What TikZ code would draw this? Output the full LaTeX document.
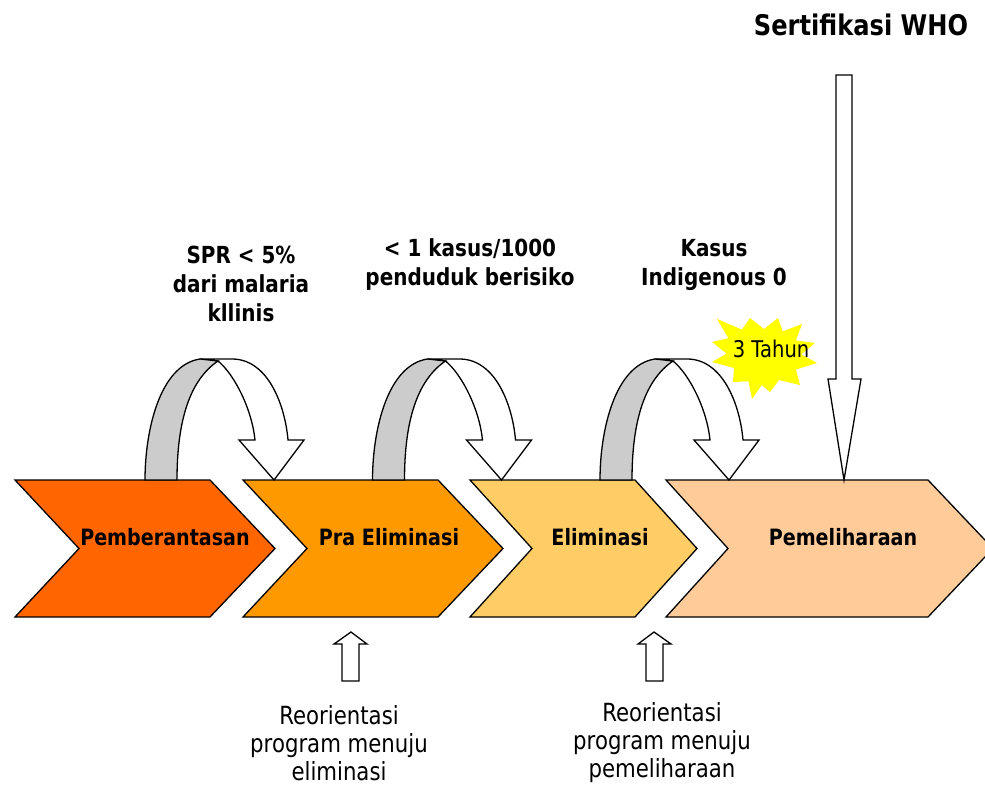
\documentclass[tikz,border=0pt]{standalone}
\usepackage{fontspec}
\setmainfont{DejaVu Sans}[FakeStretch=0.85]
\definecolor{cOne}{HTML}{FF6600}
\definecolor{cTwo}{HTML}{FF9900}
\definecolor{cThree}{HTML}{FFCC66}
\definecolor{cFour}{HTML}{FFCC99}
\definecolor{bandgray}{HTML}{CCCCCC}
\definecolor{burst}{HTML}{FFFF00}
\tikzset{
  outline/.style={draw=black, line width=1.3pt, line join=miter},
  chevlabel/.style={font=\bfseries\fontsize{22.5}{28}\selectfont, inner sep=0pt},
  toplabel/.style={font=\bfseries\fontsize{23.5}{29}\selectfont, align=center, inner sep=0pt},
  botlabel/.style={font=\fontsize{25}{28}\selectfont, align=center, inner sep=0pt},
  uarrow/.pic={
    \draw[outline, fill=white] (200,359) -- (232,359) .. controls (268,359) and (285,405) .. (288,440)
      -- (304,440) -- (274,480) -- (239,440) -- (255,440) .. controls (252,410) and (235,375) .. (218,361) -- cycle;
    \draw[outline, fill=bandgray] (145,480) .. controls (145,430) and (160,365) .. (200,359)
      -- (218,361) .. controls (190,380) and (177,420) .. (177,480) -- cycle;
  }
}
\begin{document}
\begin{tikzpicture}[x=1pt,y=-1pt]
\useasboundingbox (0,0) rectangle (985,786);
\clip (0,0) rectangle (985,786);

% chevrons
\draw[outline, fill=cOne]   (15,480) -- (210,480) -- (275,548.5) -- (210,617) -- (15,617) -- (79,548.5) -- cycle;
\draw[outline, fill=cTwo]   (243,480) -- (438,480) -- (503,548.5) -- (438,617) -- (243,617) -- (307,548.5) -- cycle;
\draw[outline, fill=cThree] (470,480) -- (635,480) -- (697,548.5) -- (635,617) -- (470,617) -- (532,548.5) -- cycle;
\draw[outline, fill=cFour]  (666,480) -- (928,480) -- (993,548.5) -- (928,617) -- (666,617) -- (728,548.5) -- cycle;

\node[chevlabel] (pemb) at (165,537) {Pemberantasan};
\node[chevlabel] (pra)  at (389,537) {Pra Eliminasi};
\node[chevlabel] (elim) at (600,537) {Eliminasi};
\node[chevlabel] (peme) at (843,537) {Pemeliharaan};

% curved arrows
\pic at (0,0) {uarrow};
\pic at (227.5,0) {uarrow};
\pic at (455,0) {uarrow};

% burst
\fill[burst] (717,319) -- (742,329.6) -- (750,318) -- (764,329) -- (778,318) -- (782.7,331.4)
  -- (802,324) -- (796,340.4) -- (815,343) -- (801.4,354.4) -- (817,363) -- (796,369.5)
  -- (800,385) -- (779,380) -- (770,392) -- (761.8,385) -- (752,399) -- (748.5,381.4)
  -- (733,382) -- (734,368) -- (712,362) -- (726.6,353.7) -- (712,342) -- (728.4,338.2) -- cycle;
\node[font=\fontsize{23}{26}\selectfont, inner sep=0pt] (tahun) at (771,349) {3 Tahun};

% certification arrow
\draw[outline, fill=white] (836,75) -- (852,75) -- (852,379) -- (861,379) -- (844,480) -- (828,379) -- (836,379) -- cycle;
\node[font=\bfseries\fontsize{28.4}{32}\selectfont, inner sep=0pt] (who) at (861,25) {Sertifikasi WHO};

% top labels
\node[toplabel] (l1) at (241,284) {SPR < 5\%\\dari malaria\\kllinis};
\node[toplabel] (l2) at (470,265) {< 1 kasus/1000\\penduduk berisiko};
\node[toplabel] (l3) at (714,265) {Kasus\\Indigenous 0};

% bottom up arrows
\draw[outline, fill=white] (342,681) -- (342,644) -- (334,644) -- (351,632) -- (367,644) -- (359,644) -- (359,681) -- cycle;
\draw[outline, fill=white] (646,681) -- (646,644) -- (638,644) -- (654,632) -- (671,644) -- (663,644) -- (663,681) -- cycle;

\node[botlabel] (r1) at (339,743) {Reorientasi\\program menuju\\eliminasi};
\node[botlabel] (r2) at (662,743) {Reorientasi\\program menuju\\pemeliharaan};
\end{tikzpicture}
\end{document}
